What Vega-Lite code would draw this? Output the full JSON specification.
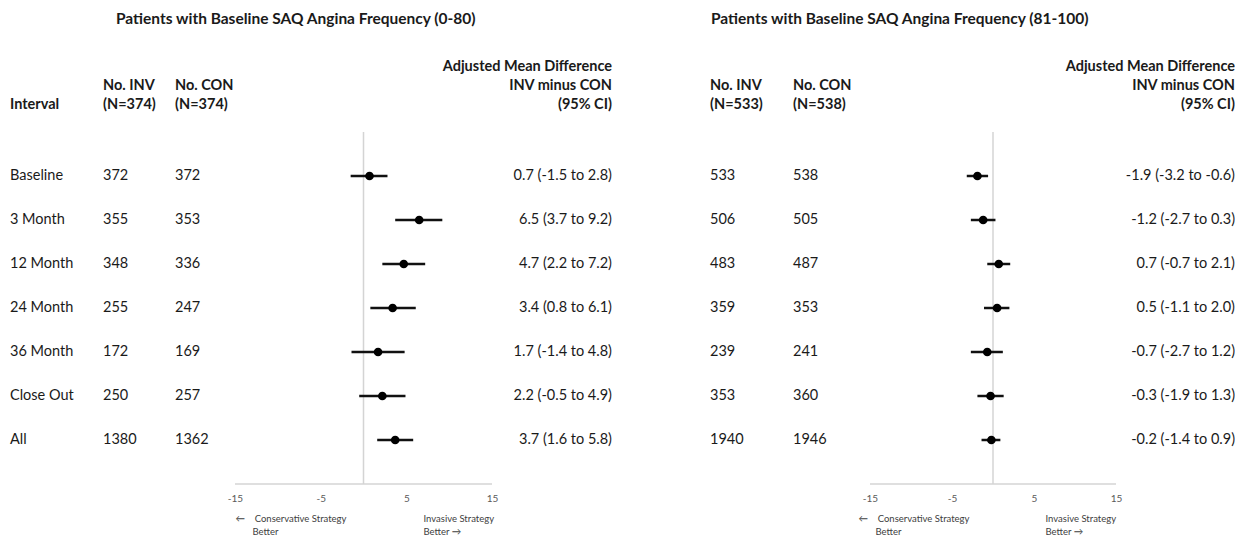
{
  "$schema": "https://vega.github.io/schema/vega-lite/v6.json",
  "padding": {"left": 10, "top": 12, "right": 0, "bottom": 0},
  "background": "white",
  "datasets": {
    "left": [
      {"interval": "Baseline", "inv": 372, "con": 372, "diff": 0.7, "lo": -1.5, "hi": 2.8, "ci": "0.7 (-1.5 to 2.8)"},
      {"interval": "3 Month", "inv": 355, "con": 353, "diff": 6.5, "lo": 3.7, "hi": 9.2, "ci": "6.5 (3.7 to 9.2)"},
      {"interval": "12 Month", "inv": 348, "con": 336, "diff": 4.7, "lo": 2.2, "hi": 7.2, "ci": "4.7 (2.2 to 7.2)"},
      {"interval": "24 Month", "inv": 255, "con": 247, "diff": 3.4, "lo": 0.8, "hi": 6.1, "ci": "3.4 (0.8 to 6.1)"},
      {"interval": "36 Month", "inv": 172, "con": 169, "diff": 1.7, "lo": -1.4, "hi": 4.8, "ci": "1.7 (-1.4 to 4.8)"},
      {"interval": "Close Out", "inv": 250, "con": 257, "diff": 2.2, "lo": -0.5, "hi": 4.9, "ci": "2.2 (-0.5 to 4.9)"},
      {"interval": "All", "inv": 1380, "con": 1362, "diff": 3.7, "lo": 1.6, "hi": 5.8, "ci": "3.7 (1.6 to 5.8)"}
    ],
    "right": [
      {"interval": "Baseline", "inv": 533, "con": 538, "diff": -1.9, "lo": -3.2, "hi": -0.6, "ci": "-1.9 (-3.2 to -0.6)"},
      {"interval": "3 Month", "inv": 506, "con": 505, "diff": -1.2, "lo": -2.7, "hi": 0.3, "ci": "-1.2 (-2.7 to 0.3)"},
      {"interval": "12 Month", "inv": 483, "con": 487, "diff": 0.7, "lo": -0.7, "hi": 2.1, "ci": "0.7 (-0.7 to 2.1)"},
      {"interval": "24 Month", "inv": 359, "con": 353, "diff": 0.5, "lo": -1.1, "hi": 2.0, "ci": "0.5 (-1.1 to 2.0)"},
      {"interval": "36 Month", "inv": 239, "con": 241, "diff": -0.7, "lo": -2.7, "hi": 1.2, "ci": "-0.7 (-2.7 to 1.2)"},
      {"interval": "Close Out", "inv": 353, "con": 360, "diff": -0.3, "lo": -1.9, "hi": 1.3, "ci": "-0.3 (-1.9 to 1.3)"},
      {"interval": "All", "inv": 1940, "con": 1946, "diff": -0.2, "lo": -1.4, "hi": 0.9, "ci": "-0.2 (-1.4 to 0.9)"}
    ]
  },
  "spacing": 98,
  "hconcat": [
    {
      "title": {"text": "Patients with Baseline SAQ Angina Frequency (0-80)", "anchor": "start", "dx": 106, "fontSize": 15.5, "offset": 31},
      "spacing": 0,
      "bounds": "flush",
      "resolve": {"scale": {"x": "independent"}},
      "hconcat": [
        {
          "width": 93, "height": 352,
          "title": {"text": "Interval"},
          "data": {"name": "left"},
          "mark": {"type": "text", "align": "left"},
          "encoding": {
            "x": {"value": 0},
            "y": {"field": "interval", "type": "nominal", "sort": null, "axis": null, "scale": {"type": "point", "padding": 1.03, "domain": ["Baseline", "3 Month", "12 Month", "24 Month", "36 Month", "Close Out", "All"]}},
            "text": {"field": "interval"}
          }
        },
        {
          "width": 72, "height": 352,
          "title": {"text": ["No. INV", "(N=374)"]},
          "data": {"name": "left"},
          "mark": {"type": "text", "align": "left"},
          "encoding": {
            "x": {"value": 0},
            "y": {"field": "interval", "type": "nominal", "sort": null, "axis": null, "scale": {"type": "point", "padding": 1.03, "domain": ["Baseline", "3 Month", "12 Month", "24 Month", "36 Month", "Close Out", "All"]}},
            "text": {"field": "inv"}
          }
        },
        {
          "width": 60, "height": 352,
          "title": {"text": ["No. CON", "(N=374)"]},
          "data": {"name": "left"},
          "mark": {"type": "text", "align": "left"},
          "encoding": {
            "x": {"value": 0},
            "y": {"field": "interval", "type": "nominal", "sort": null, "axis": null, "scale": {"type": "point", "padding": 1.03, "domain": ["Baseline", "3 Month", "12 Month", "24 Month", "36 Month", "Close Out", "All"]}},
            "text": {"field": "con"}
          }
        },
        {
          "width": 257, "height": 352,
          "resolve": {"axis": {"x": "independent"}},
          "layer": [
            {
              "data": {"values": [{}]},
              "mark": {"type": "rule", "color": "#d4d4d4", "strokeWidth": 1.5},
              "encoding": {
                "x": {"datum": 0, "type": "quantitative", "scale": {"domain": [-15, 15], "nice": false, "zero": false},
                  "axis": {"orient": "bottom", "labels": false, "ticks": false, "domain": false, "grid": false,
                    "title": ["Invasive Strategy", "Better →"], "titleAnchor": "start", "titleAlign": "left", "titleX": 188, "titlePadding": 29}}
              }
            },
            {
              "data": {"values": [{}]},
              "mark": {"type": "rule", "color": "#d4d4d4", "strokeWidth": 1.5},
              "encoding": {
                "x": {"datum": -15, "type": "quantitative", "axis": null},
                "x2": {"datum": 15},
                "y": {"value": "height"}
              }
            },
            {
              "data": {"name": "left"},
              "mark": {"type": "rule", "color": "#111111", "strokeWidth": 2.5},
              "encoding": {
                "x": {"field": "lo", "type": "quantitative", "scale": {"domain": [-15, 15], "nice": false, "zero": false},
                  "axis": {"orient": "bottom", "domain": false, "values": [-15, -5, 5, 15], "labelExpr": "'' + datum.value", "ticks": false, "grid": false, "labelFlush": false,
                    "title": ["←\u00a0\u00a0\u00a0\u00a0Conservative Strategy", "\u200b\u00a0\u00a0\u00a0\u00a0\u00a0\u00a0\u00a0Better"], "titleAnchor": "start", "titleAlign": "left", "titleX": 0, "titlePadding": 10}},
                "x2": {"field": "hi"},
                "y": {"field": "interval", "type": "nominal", "sort": null, "axis": null, "scale": {"type": "point", "padding": 1.03, "domain": ["Baseline", "3 Month", "12 Month", "24 Month", "36 Month", "Close Out", "All"]}}
              }
            },
            {
              "data": {"name": "left"},
              "mark": {"type": "point", "filled": true, "size": 75, "color": "#000000", "opacity": 1},
              "encoding": {
                "x": {"field": "diff", "type": "quantitative", "axis": null},
                "y": {"field": "interval", "type": "nominal", "sort": null, "axis": null}
              }
            }
          ]
        },
        {
          "width": 120, "height": 352,
          "title": {"text": ["Adjusted Mean Difference", "INV minus CON", "(95% CI)"], "anchor": "end", "align": "right"},
          "data": {"name": "left"},
          "mark": {"type": "text", "align": "right"},
          "encoding": {
            "x": {"value": "width"},
            "y": {"field": "interval", "type": "nominal", "sort": null, "axis": null, "scale": {"type": "point", "padding": 1.03, "domain": ["Baseline", "3 Month", "12 Month", "24 Month", "36 Month", "Close Out", "All"]}},
            "text": {"field": "ci"}
          }
        }
      ]
    },
    {
      "title": {"text": "Patients with Baseline SAQ Angina Frequency (81-100)", "anchor": "start", "dx": 1, "fontSize": 15.5, "offset": 31},
      "spacing": 0,
      "bounds": "flush",
      "resolve": {"scale": {"x": "independent"}},
      "hconcat": [
        {
          "width": 83, "height": 352,
          "title": {"text": ["No. INV", "(N=533)"]},
          "data": {"name": "right"},
          "mark": {"type": "text", "align": "left"},
          "encoding": {
            "x": {"value": 0},
            "y": {"field": "interval", "type": "nominal", "sort": null, "axis": null, "scale": {"type": "point", "padding": 1.03, "domain": ["Baseline", "3 Month", "12 Month", "24 Month", "36 Month", "Close Out", "All"]}},
            "text": {"field": "inv"}
          }
        },
        {
          "width": 77, "height": 352,
          "title": {"text": ["No. CON", "(N=538)"]},
          "data": {"name": "right"},
          "mark": {"type": "text", "align": "left"},
          "encoding": {
            "x": {"value": 0},
            "y": {"field": "interval", "type": "nominal", "sort": null, "axis": null, "scale": {"type": "point", "padding": 1.03, "domain": ["Baseline", "3 Month", "12 Month", "24 Month", "36 Month", "Close Out", "All"]}},
            "text": {"field": "con"}
          }
        },
        {
          "width": 246, "height": 352,
          "resolve": {"axis": {"x": "independent"}},
          "layer": [
            {
              "data": {"values": [{}]},
              "mark": {"type": "rule", "color": "#d4d4d4", "strokeWidth": 1.5},
              "encoding": {
                "x": {"datum": 0, "type": "quantitative", "scale": {"domain": [-15, 15], "nice": false, "zero": false},
                  "axis": {"orient": "bottom", "labels": false, "ticks": false, "domain": false, "grid": false,
                    "title": ["Invasive Strategy", "Better →"], "titleAnchor": "start", "titleAlign": "left", "titleX": 175, "titlePadding": 29}}
              }
            },
            {
              "data": {"values": [{}]},
              "mark": {"type": "rule", "color": "#d4d4d4", "strokeWidth": 1.5},
              "encoding": {
                "x": {"datum": -15, "type": "quantitative", "axis": null},
                "x2": {"datum": 15},
                "y": {"value": "height"}
              }
            },
            {
              "data": {"name": "right"},
              "mark": {"type": "rule", "color": "#111111", "strokeWidth": 2.5},
              "encoding": {
                "x": {"field": "lo", "type": "quantitative", "scale": {"domain": [-15, 15], "nice": false, "zero": false},
                  "axis": {"orient": "bottom", "domain": false, "values": [-15, -5, 5, 15], "labelExpr": "'' + datum.value", "ticks": false, "grid": false, "labelFlush": false,
                    "title": ["←\u00a0\u00a0\u00a0\u00a0Conservative Strategy", "\u200b\u00a0\u00a0\u00a0\u00a0\u00a0\u00a0\u00a0Better"], "titleAnchor": "start", "titleAlign": "left", "titleX": -12, "titlePadding": 10}},
                "x2": {"field": "hi"},
                "y": {"field": "interval", "type": "nominal", "sort": null, "axis": null, "scale": {"type": "point", "padding": 1.03, "domain": ["Baseline", "3 Month", "12 Month", "24 Month", "36 Month", "Close Out", "All"]}}
              }
            },
            {
              "data": {"name": "right"},
              "mark": {"type": "point", "filled": true, "size": 75, "color": "#000000", "opacity": 1},
              "encoding": {
                "x": {"field": "diff", "type": "quantitative", "axis": null},
                "y": {"field": "interval", "type": "nominal", "sort": null, "axis": null}
              }
            }
          ]
        },
        {
          "width": 119, "height": 352,
          "title": {"text": ["Adjusted Mean Difference", "INV minus CON", "(95% CI)"], "anchor": "end", "align": "right"},
          "data": {"name": "right"},
          "mark": {"type": "text", "align": "right"},
          "encoding": {
            "x": {"value": "width"},
            "y": {"field": "interval", "type": "nominal", "sort": null, "axis": null, "scale": {"type": "point", "padding": 1.03, "domain": ["Baseline", "3 Month", "12 Month", "24 Month", "36 Month", "Close Out", "All"]}},
            "text": {"field": "ci"}
          }
        }
      ]
    }
  ],
  "config": {
    "font": "Lato",
    "view": {"stroke": null},
    "title": {"font": "Lato", "fontSize": 14.5, "fontWeight": "bold", "color": "#1a1a1a", "anchor": "start", "lineHeight": 19, "offset": 20, "baseline": "bottom"},
    "text": {"font": "Lato", "fontSize": 14.5, "color": "#1a1a1a"},
    "axis": {
      "labelFont": "Lato", "labelFontSize": 10, "labelColor": "#595959", "labelPadding": 9,
      "titleFont": "Lato", "titleFontSize": 9.5, "titleFontWeight": "normal", "titleColor": "#404040", "titleLineHeight": 13, "titleBaseline": "top"
    }
  }
}
